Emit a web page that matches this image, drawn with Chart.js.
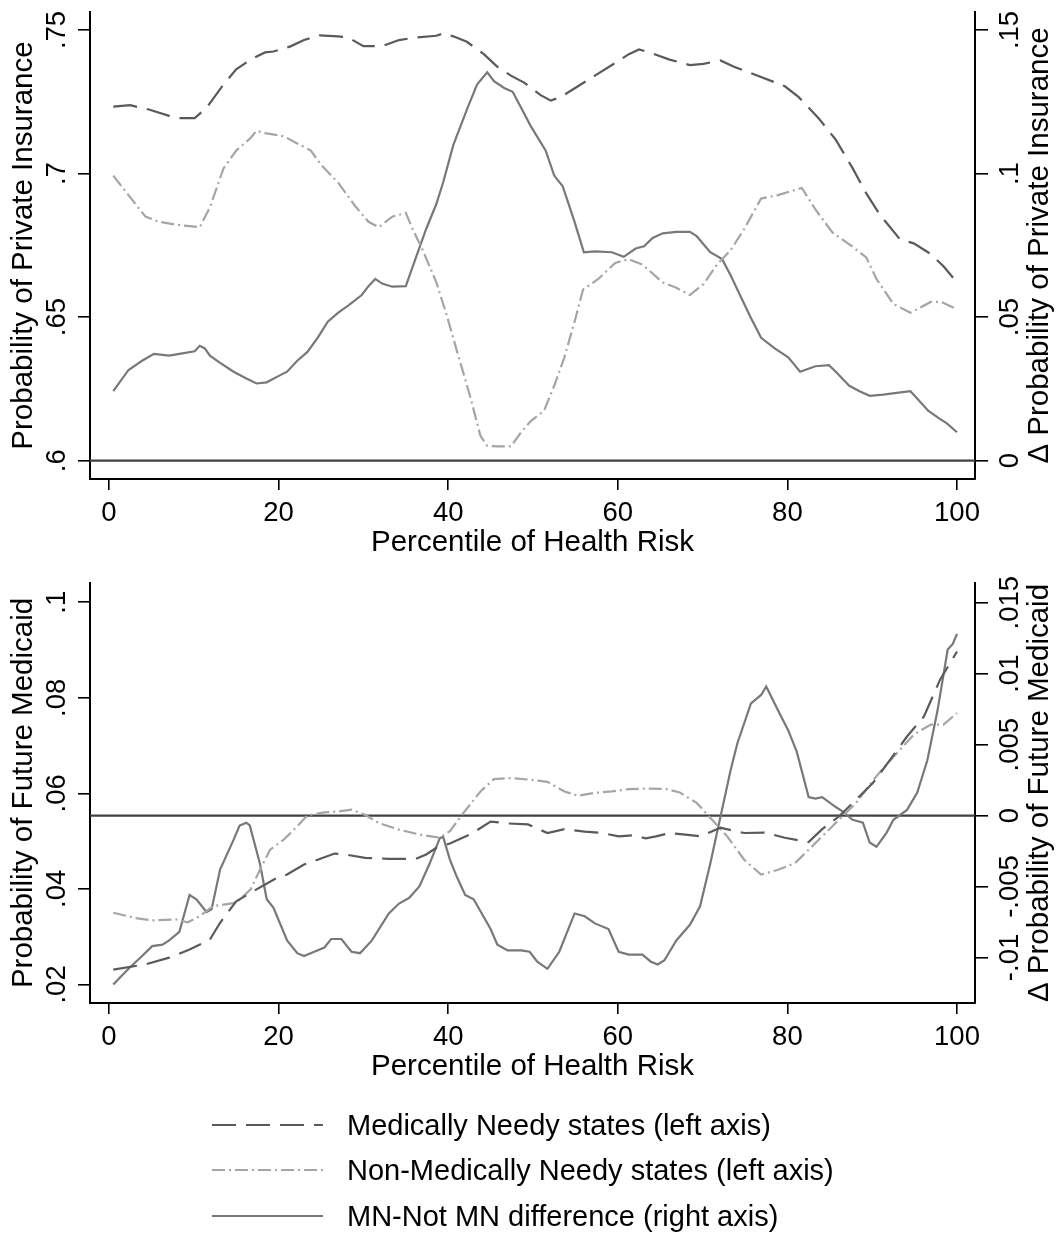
<!DOCTYPE html>
<html>
<head>
<meta charset="utf-8">
<script src="https://cdn.jsdelivr.net/npm/chart.js@4.4.1/dist/chart.umd.min.js"></script>
<style>
  html, body { margin: 0; padding: 0; background: #fff; }
  #wrap { position: relative; width: 1057px; height: 1234px; overflow: hidden; font-family: "Liberation Sans", Arial, sans-serif; }
  #wrap canvas { position: absolute; left: 0; }
  #chartTop { top: 0; }
  #chartBottom { top: 540px; }
  .legRow { position: absolute; left: 0; width: 1057px; height: 40px; }
  .legRow svg { position: absolute; left: 212px; top: 0; }
  .legRow span { position: absolute; left: 347px; top: 0; line-height: 40px; font-size: 29px; color: #000; white-space: nowrap; }
</style>
</head>
<body>
<div id="wrap">
  <canvas id="chartTop" width="1057" height="580"></canvas>
  <canvas id="chartBottom" width="1057" height="560"></canvas>
  <div id="legend"></div>
</div>
<script>
// x = percentile of health risk
const xTicks = [0, 20, 40, 60, 80, 100];

// ---- top panel: probability of private insurance ----
const topMnX = [0.5, 2.5, 4.7, 7.1, 8.3, 10.1, 11.5, 13.5, 15.0, 16.7, 18.4, 19.4, 21.4, 23.0, 24.8, 27.0, 28.2, 30.0, 32.2, 34.2, 36.2, 38.6, 39.4, 40.6, 42.2, 44.2, 45.8, 47.4, 49.0, 50.9, 52.1, 53.3, 55.3, 57.3, 60.0, 61.3, 62.5, 63.7, 66.1, 68.5, 70.1, 72.1, 73.7, 76.5, 79.7, 81.3, 83.7, 85.7, 87.7, 89.3, 90.9, 93.3, 94.9, 96.9, 98.4, 100];
const topMnY = [.7233, .7238, .7223, .7201, .7193, .7193, .7229, .731, .7363, .7397, .7422, .7425, .7443, .7465, .7481, .7478, .7474, .7444, .7444, .7465, .7474, .748, .7488, .7478, .7459, .7416, .7372, .7341, .7316, .7273, .7254, .7267, .7304, .7341, .7391, .7416, .7432, .7422, .7397, .7378, .7382, .7394, .7372, .7341, .7304, .7267, .7192, .7118, .7018, .6931, .6857, .677, .6757, .672, .6677, .6621];

const topNmnX = [0.5, 2.3, 4.3, 5.9, 7.9, 9.5, 10.7, 11.9, 13.5, 15.0, 16.7, 17.4, 18.6, 20.6, 22.2, 23.8, 25.0, 27.0, 29.0, 30.6, 31.8, 33.4, 35.0, 35.8, 37.0, 38.6, 39.8, 41.0, 42.6, 43.8, 44.6, 45.8, 47.4, 48.6, 49.7, 51.3, 52.5, 53.7, 54.9, 55.9, 57.7, 59.7, 61.3, 62.9, 65.3, 66.9, 68.5, 70.1, 71.7, 73.3, 74.9, 76.9, 78.9, 81.7, 83.3, 85.3, 87.7, 89.3, 90.5, 92.5, 94.5, 96.9, 98.1, 100];
const topNmnY = [.6993, .6925, .685, .6832, .6822, .6817, .6813, .6882, .7018, .708, .7124, .7149, .714, .713, .7105, .708, .7031, .6969, .6888, .6832, .6813, .685, .6863, .6807, .6733, .6621, .6509, .6385, .6223, .6087, .6052, .605, .605, .6099, .6137, .6174, .6261, .636, .6484, .6596, .6633, .6689, .6702, .6683, .6621, .6602, .6577, .6615, .6683, .6733, .6807, .6913, .6925, .695, .6875, .6795, .6745, .6708, .6633, .6546, .6515, .6553, .6553, .6528];

const topDiffX = [0.5, 2.3, 3.9, 5.3, 7.1, 8.3, 10.1, 10.7, 11.3, 11.9, 13.1, 14.7, 16.2, 17.4, 18.6, 19.8, 21.0, 22.2, 23.4, 24.6, 25.8, 27.0, 28.2, 29.8, 30.6, 31.4, 32.2, 33.4, 35.0, 36.2, 37.4, 38.6, 39.4, 40.6, 42.2, 43.4, 44.6, 45.4, 46.6, 47.6, 48.6, 49.7, 51.5, 52.5, 53.5, 54.9, 56.0, 57.3, 59.3, 60.7, 62.1, 63.1, 64.1, 65.3, 66.9, 68.5, 69.3, 70.9, 72.3, 73.3, 74.5, 75.7, 76.9, 78.5, 80.1, 81.5, 83.3, 84.9, 85.7, 87.3, 88.5, 89.7, 91.3, 92.9, 94.5, 95.3, 96.6, 97.8, 98.8, 100];
const topDiffY = [.0242, .0316, .0348, .0372, .0366, .0372, .0381, .04, .0391, .0366, .0341, .031, .0286, .0269, .0273, .0292, .031, .0348, .0379, .0428, .0484, .0515, .054, .0577, .0608, .0633, .0617, .0606, .0608, .0708, .0807, .0894, .0969, .1099, .1223, .131, .1353, .1322, .1298, .1285, .1229, .1167, .108, .0993, .0956, .0832, .0726, .0729, .0726, .071, .0739, .0747, .0776, .0792, .0797, .0797, .0782, .0726, .0702, .0646, .0571, .0497, .0428, .0391, .036, .031, .0329, .0333, .031, .0261, .0242, .0226, .023, .0236, .0242, .0217, .0174, .0149, .013, .0099];

const topLeftTicks = [0.6, 0.65, 0.7, 0.75];
const topRightTicks = [0, 0.05, 0.1, 0.15];

// ---- bottom panel: probability of future medicaid ----
const botMnX = [0.5, 4.3, 7.1, 9.5, 11.9, 13.1, 15.0, 17.4, 19.8, 21.0, 23.0, 24.6, 26.6, 28.2, 30.2, 33.0, 36.2, 37.4, 38.6, 40.2, 42.6, 45.0, 47.0, 49.4, 51.7, 53.7, 56.1, 58.1, 60.1, 61.7, 63.3, 64.5, 66.1, 67.7, 69.7, 72.1, 74.9, 77.3, 79.7, 82.5, 84.1, 86.1, 87.7, 90.1, 92.1, 94.1, 96.1, 98.0, 100];
const botMnY = [.0231, .0242, .0256, .0273, .0294, .0329, .0374, .0399, .0423, .043, .0451, .0461, .0474, .0471, .0465, .0463, .0463, .0472, .0486, .0495, .0514, .0541, .0537, .0535, .0517, .0525, .052, .0517, .051, .0512, .0506, .051, .0517, .0514, .051, .0528, .0517, .0518, .0507, .0498, .0525, .0552, .058, .0622, .067, .0719, .0761, .0838, .0897];

const botNmnX = [0.5, 3.1, 5.1, 7.9, 9.3, 10.7, 12.3, 15.0, 16.7, 17.8, 19.0, 20.6, 22.2, 23.4, 25.4, 27.0, 28.6, 30.2, 31.8, 34.2, 36.6, 39.0, 40.2, 41.8, 43.8, 45.4, 47.4, 49.4, 51.7, 53.7, 55.3, 57.3, 59.3, 61.3, 63.3, 65.7, 67.3, 69.3, 71.3, 72.9, 74.9, 76.9, 78.9, 80.9, 82.5, 84.5, 86.5, 88.1, 90.5, 92.9, 94.9, 96.9, 98.4, 100];
const botNmnY = [.035, .0339, .0334, .0336, .033, .0343, .0364, .0371, .0399, .044, .0482, .0503, .0531, .0554, .056, .0562, .0566, .0555, .0538, .0524, .0514, .0507, .0521, .0559, .0604, .063, .0632, .0629, .0624, .0604, .0595, .0601, .0604, .0609, .061, .0609, .0602, .058, .0541, .051, .0461, .043, .044, .0454, .0482, .0517, .0552, .058, .0636, .0684, .0723, .0744, .0744, .0768];

const botDiffX = [0.5, 2.3, 3.9, 5.1, 6.3, 7.1, 8.3, 9.5, 10.3, 11.5, 12.1, 13.1, 14.7, 15.4, 16.2, 16.6, 17.8, 18.6, 19.4, 21.0, 22.2, 23.0, 24.2, 25.4, 26.2, 27.4, 28.6, 29.6, 31.0, 33.0, 34.2, 35.4, 36.6, 37.8, 39.0, 39.4, 40.2, 41.0, 42.0, 43.0, 45.0, 45.8, 47.0, 48.6, 49.6, 50.5, 51.7, 53.1, 54.9, 56.1, 57.3, 58.9, 60.1, 61.3, 62.9, 63.9, 64.7, 65.5, 66.9, 68.5, 69.7, 70.9, 72.1, 73.3, 74.1, 75.7, 76.9, 77.5, 78.9, 80.1, 81.1, 82.5, 83.3, 84.1, 85.7, 86.5, 87.7, 88.9, 89.7, 90.5, 91.7, 92.5, 94.1, 95.3, 96.5, 97.7, 98.9, 99.5, 100];
const botDiffY = [-.0119, -.0108, -.0099, -.0092, -.0091, -.0088, -.0082, -.0056, -.0059, -.0068, -.0066, -.0038, -.0017, -.0007, -.0005, -.0007, -.0034, -.0059, -.0065, -.0088, -.0097, -.0099, -.0096, -.0093, -.0087, -.0087, -.0096, -.0097, -.0088, -.0069, -.0062, -.0058, -.005, -.0034, -.0016, -.0015, -.0031, -.0043, -.0056, -.0059, -.008, -.0091, -.0095, -.0095, -.0096, -.0103, -.0108, -.0096, -.0069, -.0071, -.0076, -.008, -.0096, -.0098, -.0098, -.0103, -.0105, -.0102, -.0088, -.0077, -.0064, -.0034, -.0001, .0032, .0051, .0079, .0085, .0091, .0074, .006, .0045, .0013, .0012, .0013, .0006, .0003, -.0003, -.0005, -.0019, -.0022, -.0012, -.0003, .0004, .0016, .0039, .0074, .0117, .0121, .0128];

const botLeftTicks = [0.02, 0.04, 0.06, 0.08, 0.1];
const botRightTicks = [-0.01, -0.005, 0, 0.005, 0.01, 0.015];

const seriesLabels = ['Medically Needy states (left axis)', 'Non-Medically Needy states (left axis)', 'MN-Not MN difference (right axis)'];

// styles
const FONT = '"Liberation Sans", Arial, sans-serif';
const lineColors = ['#5a5a5a', '#a5a5a5', '#787878'];
const lineDashes = [[24, 10], [13, 4, 2, 4], []];
const tickFont = { family: FONT, size: 27.5 };
const titleFont = { family: FONT, size: 29.5 };

function stataNum(v) {
  // stata drops the leading zero: .05, -.005
  const s = String(Number(Number(v).toFixed(4)));
  return s.replace(/^(-?)0\./, '$1.');
}

function pts(xs, ys) {
  return xs.map((x, i) => ({ x: x, y: ys[i] }));
}

// horizontal line at 0 on the right axis
const zeroLine = {
  id: 'zeroLine',
  beforeDatasetsDraw(chart) {
    const a = chart.chartArea;
    const y = chart.scales.yR.getPixelForValue(0);
    const ctx = chart.ctx;
    ctx.save();
    ctx.strokeStyle = '#404040';
    ctx.lineWidth = 2.2;
    ctx.beginPath();
    ctx.moveTo(a.left, y);
    ctx.lineTo(a.right, y);
    ctx.stroke();
    ctx.restore();
  }
};

// right axis title reads bottom to top like the left one
const rightTitle = {
  id: 'rightTitle',
  afterDraw(chart, args, opts) {
    const a = chart.chartArea;
    const ctx = chart.ctx;
    ctx.save();
    ctx.translate(opts.x, (a.top + a.bottom) / 2);
    ctx.rotate(-Math.PI / 2);
    ctx.font = titleFont.size + 'px ' + FONT;
    ctx.fillStyle = '#000';
    ctx.textAlign = 'center';
    ctx.textBaseline = 'middle';
    ctx.fillText(opts.text, 0, 0);
    ctx.restore();
  }
};

function makePanel(id, p) {
  const gridOpts = (len) => ({ drawOnChartArea: false, drawTicks: true, tickLength: len, color: '#000', lineWidth: 1.6 });
  const borderOpts = { display: true, color: '#000', width: 2 };

  new Chart(document.getElementById(id), {
    type: 'line',
    data: {
      datasets: [
        { label: seriesLabels[0], data: pts(p.mnX, p.mnY), yAxisID: 'yL', borderColor: lineColors[0], borderDash: lineDashes[0], borderWidth: 2.2 },
        { label: seriesLabels[1], data: pts(p.nmnX, p.nmnY), yAxisID: 'yL', borderColor: lineColors[1], borderDash: lineDashes[1], borderWidth: 2.2 },
        { label: seriesLabels[2], data: pts(p.diffX, p.diffY), yAxisID: 'yR', borderColor: lineColors[2], borderDash: lineDashes[2], borderWidth: 2.2 }
      ]
    },
    options: {
      responsive: false,
      animation: false,
      devicePixelRatio: 1,
      layout: { padding: { top: p.padTop, left: 0, right: 0, bottom: 0 } },
      elements: { point: { radius: 0 }, line: { tension: 0, fill: false } },
      plugins: {
        legend: { display: false },
        tooltip: { enabled: false },
        rightTitle: { text: p.rightTitle, x: 1039.5 }
      },
      scales: {
        x: {
          type: 'linear', min: -2.24, max: 102.12,
          afterBuildTicks: s => { s.ticks = xTicks.map(v => ({ value: v })); },
          afterFit: s => { s.height = p.xAxisH; s.paddingLeft = 0; s.paddingRight = 0; },
          ticks: { font: tickFont, color: '#000', padding: 7, maxRotation: 0, autoSkip: false },
          grid: gridOpts(11),
          border: borderOpts,
          title: { display: true, text: 'Percentile of Health Risk', font: titleFont, color: '#000', padding: { top: 0, bottom: p.xTitlePad } }
        },
        yL: {
          type: 'linear', position: 'left', min: p.yLMin, max: p.yLMax,
          afterBuildTicks: s => { s.ticks = p.leftTicks.map(v => ({ value: v })); },
          afterFit: s => { s.width = 90; s.paddingTop = 0; s.paddingBottom = 0; },
          ticks: { font: tickFont, color: '#000', minRotation: 90, maxRotation: 90, crossAlign: 'center', padding: 1.7, autoSkip: false, callback: v => stataNum(v) },
          grid: gridOpts(12),
          border: borderOpts,
          title: { display: true, text: p.leftTitle, font: titleFont, color: '#000', padding: { top: 6.4, bottom: 0 } }
        },
        yR: {
          type: 'linear', position: 'right', min: p.yRMin, max: p.yRMax,
          afterBuildTicks: s => { s.ticks = p.rightTicks.map(v => ({ value: v })); },
          afterFit: s => { s.width = 82; s.paddingTop = 0; s.paddingBottom = 0; },
          ticks: { font: tickFont, color: '#000', minRotation: 90, maxRotation: 90, crossAlign: 'center', padding: p.rightPad, autoSkip: false, callback: v => stataNum(v) },
          grid: gridOpts(13),
          border: borderOpts,
          title: { display: false }
        }
      }
    },
    plugins: [zeroLine, rightTitle]
  });
}

makePanel('chartTop', {
  mnX: topMnX, mnY: topMnY, nmnX: topNmnX, nmnY: topNmnY, diffX: topDiffX, diffY: topDiffY,
  leftTicks: topLeftTicks, rightTicks: topRightTicks,
  yLMin: 0.59363, yLMax: 0.75627, yRMin: -0.00637, yRMax: 0.15627,
  leftTitle: 'Probability of Private Insurance',
  rightTitle: '\u0394 Probability of Private Insurance',
  padTop: 12, xAxisH: 101, xTitlePad: 19.3, rightPad: 3.4
});

makePanel('chartBottom', {
  mnX: botMnX, mnY: botMnY, nmnX: botNmnX, nmnY: botNmnY, diffX: botDiffX, diffY: botDiffY,
  leftTicks: botLeftTicks, rightTicks: botRightTicks,
  yLMin: 0.01611, yLMax: 0.10404, yRMin: -0.01321, yRMax: 0.01639,
  leftTitle: 'Probability of Future Medicaid',
  rightTitle: '\u0394 Probability of Future Medicaid',
  padTop: 43, xAxisH: 97, xTitlePad: 15.3, rightPad: -8.8
});

// legend below both panels
const legend = document.getElementById('legend');
const legendY0 = 1125;
const legendGap = 45.4;
seriesLabels.forEach((lab, i) => {
  const row = document.createElement('div');
  row.className = 'legRow';
  row.style.top = (legendY0 + i * legendGap - 20) + 'px';
  const dash = lineDashes[i].length ? lineDashes[i].join(' ') : 'none';
  row.innerHTML = '<svg width="112" height="40"><line x1="0" y1="20" x2="111" y2="20" stroke="' + lineColors[i] +
    '" stroke-width="2.2" stroke-dasharray="' + dash + '"/></svg><span>' + lab + '</span>';
  legend.appendChild(row);
});
</script>
</body>
</html>
